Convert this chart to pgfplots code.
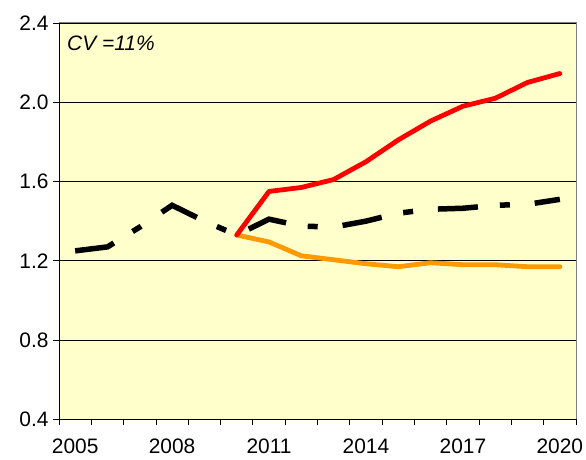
\documentclass[border=0pt]{standalone}
\usepackage{pgfplots}
\pgfplotsset{compat=1.18}
\usepackage{fontspec}
\setmainfont{Liberation Sans}
\definecolor{bgy}{HTML}{FFFFCC}
\definecolor{orng}{HTML}{FF9900}
\begin{document}
\begin{tikzpicture}[x=1bp,y=1bp]
\path[use as bounding box] (-59,-40.7) rectangle (527,419.3);
\begin{axis}[
  at={(0,0)}, anchor=south west,
  scale only axis, width=517bp, height=396.3bp,
  xmin=2004.5, xmax=2020.5, ymin=0.4, ymax=2.4,
  axis background/.style={fill=bgy, draw=gray, line width=1pt},
  axis x line*=bottom, axis y line*=left,
  axis line style={black, line width=1pt, -},
  xtick={2005,2008,2011,2014,2017,2020},
  minor xtick={2004.5,2005.5,...,2020.5},
  ytick={0.4,0.8,1.2,1.6,2.0,2.4},
  yticklabels={0.4,0.8,1.2,1.6,2.0,2.4},
  xticklabels={2005,2008,2011,2014,2017,2020},
  tick align=outside,
  major tick length=6bp, minor tick length=6bp,
  x tick style={draw=none},
  minor x tick style={draw=black, line width=0.8pt},
  y tick style={black, line width=0.8pt},
  ymajorgrids, major grid style={black, line width=0.8pt},
  tick label style={font=\fontsize{21}{24}\selectfont},
  xticklabel style={yshift=-10bp},
  yticklabel style={xshift=-1bp},
  /pgf/number format/assume math mode=true,
  clip=false,
]
\addplot[black, line width=5.5bp, dash pattern=on 40bp off 22bp on 10bp off 25bp] coordinates {
(2005,1.25) (2006,1.27) (2007,1.37) (2008,1.48) (2009,1.40) (2010,1.33)
(2011,1.41) (2012,1.375) (2013,1.37) (2014,1.40) (2015,1.44) (2016,1.46)
(2017,1.465) (2018,1.48) (2019,1.485) (2020,1.51)};
\addplot[orng, line width=4.8bp, line cap=round, line join=round] coordinates {
(2010,1.33) (2011,1.295) (2012,1.225) (2013,1.205) (2014,1.185) (2015,1.17)
(2016,1.19) (2017,1.18) (2018,1.18) (2019,1.17) (2020,1.17)};
\addplot[red, line width=4.8bp, line cap=round, line join=round] coordinates {
(2010,1.33) (2011,1.55) (2012,1.57) (2013,1.61) (2014,1.70) (2015,1.81)
(2016,1.905) (2017,1.98) (2018,2.02) (2019,2.10) (2020,2.145)};
\node[anchor=north west, inner sep=0pt, font=\fontsize{21}{24}\selectfont\itshape] at (rel axis cs:0,1) [xshift=8bp, yshift=-13bp] {CV =11\%};
\end{axis}
\end{tikzpicture}
\end{document}
